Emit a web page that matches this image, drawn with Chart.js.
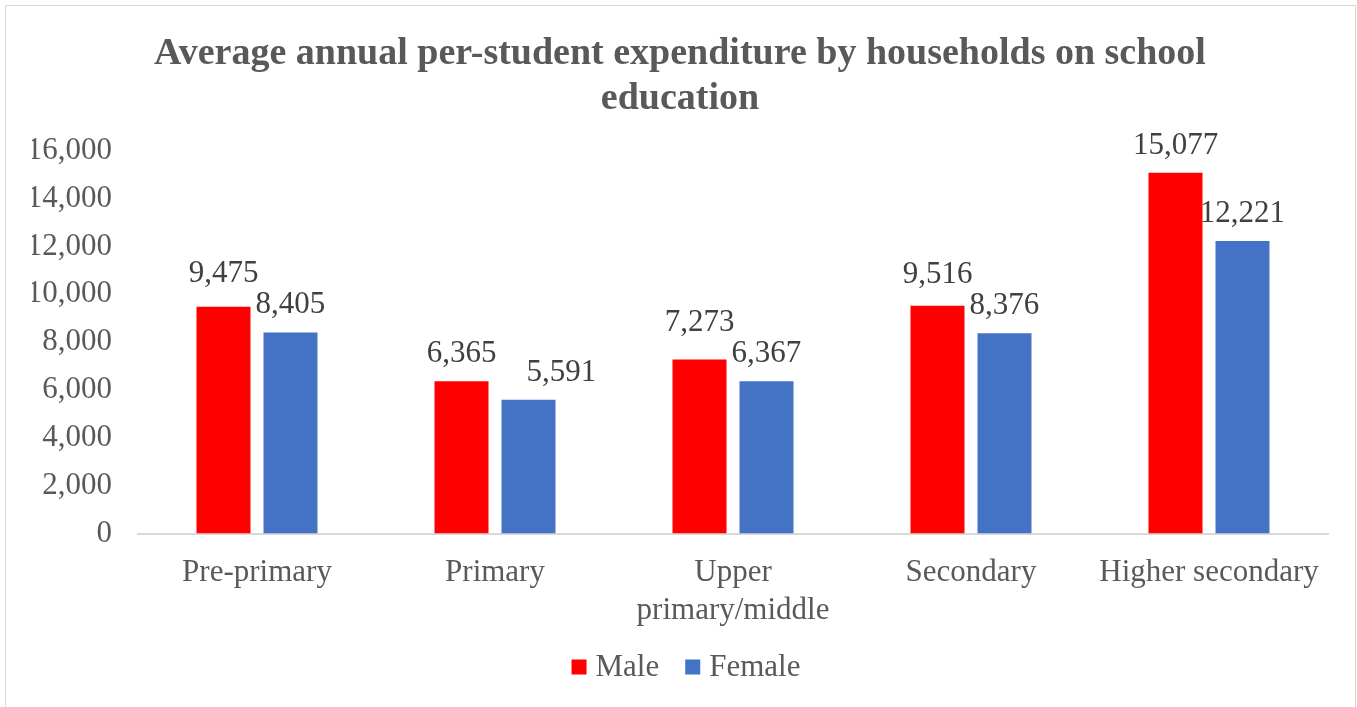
<!DOCTYPE html>
<html>
<head>
<meta charset="utf-8">
<script src="https://cdn.jsdelivr.net/npm/chart.js@4"></script>
<style>
  html, body { margin: 0; padding: 0; background: #fff; }
  #wrap { width: 1357px; height: 707px; position: relative; }
</style>
</head>
<body>
<div id="wrap"><canvas id="chart" width="1357" height="707"></canvas></div>
<script>
const categories = ["Pre-primary", "Primary", ["Upper", "primary/middle"], "Secondary", "Higher secondary"]
const maleValues = [9475, 6365, 7273, 9516, 15077]
const femaleValues = [8405, 5591, 6367, 8376, 12221]
const titleLines = ["Average annual per-student expenditure by households on school", "education"]

const FONT = "'Liberation Serif', 'Times New Roman', serif"
const TEXT_COLOR = "#595959"
const LABEL_GAP = 19

const frame = {
  id: 'frame',
  beforeDraw(chart) {
    const ctx = chart.ctx
    ctx.save()
    ctx.fillStyle = '#fff'
    ctx.fillRect(0, 0, chart.width, chart.height)
    ctx.strokeStyle = '#d9d9d9'
    ctx.lineWidth = 1
    ctx.strokeRect(5.5, 5.5, 1350, 720)
    ctx.restore()
  }
}

// value labels above the bars, nudged apart when a pair would collide (like Excel does)
const valueLabels = {
  id: 'valueLabels',
  afterDatasetsDraw(chart) {
    const ctx = chart.ctx
    ctx.save()
    ctx.font = `31px ${FONT}`
    ctx.fillStyle = '#404040'
    ctx.textAlign = 'center'
    ctx.textBaseline = 'alphabetic'
    const maleBars = chart.getDatasetMeta(0).data
    const femaleBars = chart.getDatasetMeta(1).data
    maleBars.forEach((mBar, j) => {
      const fBar = femaleBars[j]
      const mText = maleValues[j].toLocaleString('en-US')
      const fText = femaleValues[j].toLocaleString('en-US')
      let mx = mBar.x, my = mBar.y - LABEL_GAP
      let fx = fBar.x, fy = fBar.y - LABEL_GAP
      const diff = fy - my
      if (diff < 20) {
        const mRight = mx + ctx.measureText(mText).width / 2
        fx = mRight + 30 + ctx.measureText(fText).width / 2
      } else if (diff < 31) {
        my = fy - 31
      }
      ctx.fillText(mText, mx, my)
      ctx.fillText(fText, fx, fy)
    })
    ctx.restore()
  }
}

// legend drawn by hand so the swatch/text spacing matches the original
const bottomLegend = {
  id: 'bottomLegend',
  afterDraw(chart) {
    const ctx = chart.ctx
    ctx.save()
    ctx.font = `31px ${FONT}`
    ctx.textBaseline = 'middle'
    ctx.textAlign = 'left'
    const box = 15, gap = 9, spacing = 26
    const items = chart.data.datasets.map(ds => ({ text: ds.label, color: ds.backgroundColor }))
    const total = items.reduce((sum, it) => sum + box + gap + ctx.measureText(it.text).width, 0) + spacing * (items.length - 1)
    let x = 686 - total / 2
    const y = 667
    items.forEach(it => {
      ctx.fillStyle = it.color
      ctx.fillRect(x, y - box / 2, box, box)
      x += box + gap
      ctx.fillStyle = TEXT_COLOR
      ctx.fillText(it.text, x, y + 1)
      x += ctx.measureText(it.text).width + spacing
    })
    ctx.restore()
  }
}

new Chart(document.getElementById('chart'), {
  type: 'bar',
  data: {
    labels: categories,
    datasets: [
      { label: 'Male', data: maleValues, backgroundColor: '#ff0000' },
      { label: 'Female', data: femaleValues, backgroundColor: '#4472c4' }
    ]
  },
  options: {
    responsive: false,
    animation: false,
    layout: { padding: { left: 32, right: 29, bottom: 57 } },
    datasets: { bar: { categoryPercentage: 0.563, barPercentage: 0.806 } },
    plugins: {
      title: {
        display: true,
        text: titleLines,
        color: TEXT_COLOR,
        font: { family: FONT, size: 38, weight: 'bold', lineHeight: 1.18 },
        padding: { top: 32, bottom: 29 }
      },
      legend: { display: false },
      tooltip: { enabled: false }
    },
    scales: {
      x: {
        grid: { display: false, drawTicks: false },
        border: { color: '#d9d9d9', width: 2 },
        ticks: {
          color: TEXT_COLOR,
          font: { family: FONT, size: 31, lineHeight: 1.2 },
          padding: 21,
          maxRotation: 0,
          autoSkip: false
        }
      },
      y: {
        min: 0,
        max: 16000,
        grid: { display: false, drawTicks: false },
        border: { display: false },
        ticks: {
          stepSize: 2000,
          color: TEXT_COLOR,
          font: { family: FONT, size: 31 },
          padding: 26,
          callback: v => v.toLocaleString('en-US')
        },
        afterFit(scale) { scale.width = 106 }
      }
    }
  },
  plugins: [frame, valueLabels, bottomLegend]
})
</script>
</body>
</html>
